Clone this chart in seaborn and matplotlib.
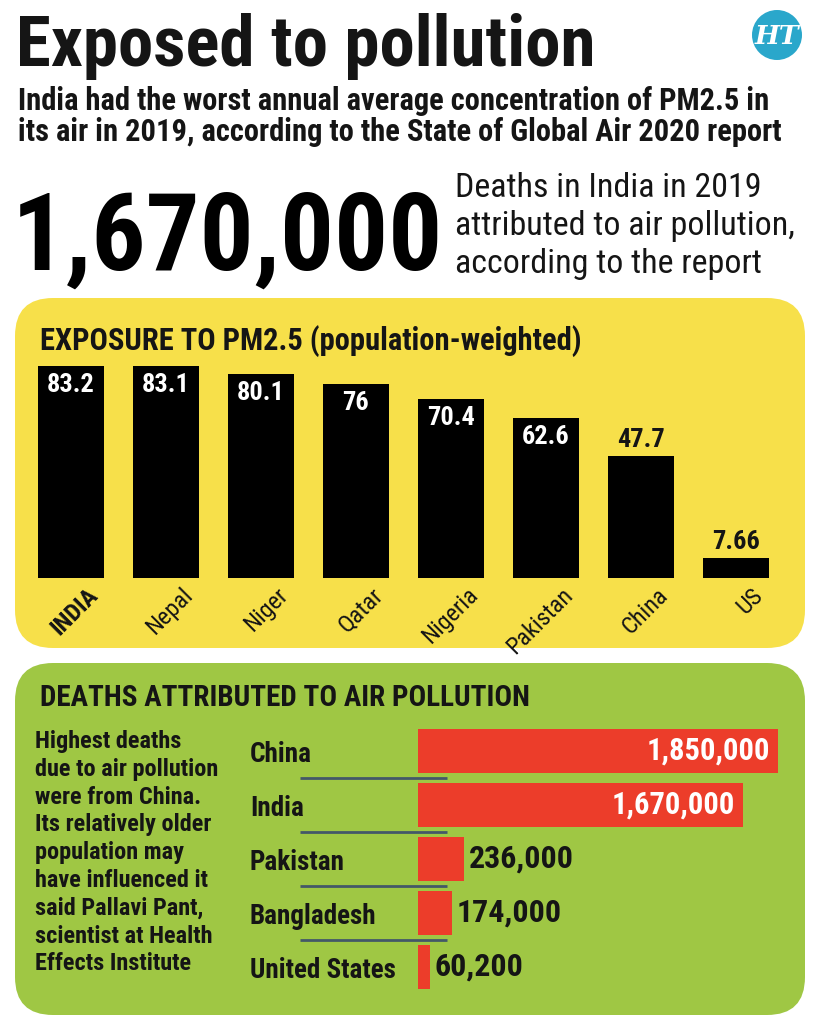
import matplotlib
matplotlib.use("Agg")
import matplotlib.pyplot as plt
import seaborn as sns
import pandas as pd
from matplotlib import font_manager as fm
from matplotlib.patches import FancyBboxPatch, Circle
from matplotlib.transforms import ScaledTranslation

# ---------------- data ----------------
pm_countries = ["INDIA", "Nepal", "Niger", "Qatar", "Nigeria", "Pakistan", "China", "US"]
pm_values = [83.2, 83.1, 80.1, 76, 70.4, 62.6, 47.7, 7.66]
pm_labels = ["83.2", "83.1", "80.1", "76", "70.4", "62.6", "47.7", "7.66"]

death_countries = ["China", "India", "Pakistan", "Bangladesh", "United States"]
death_values = [1850000, 1670000, 236000, 174000, 60200]

title = "Exposed to pollution"
subtitle = ["India had the worst annual average concentration of PM2.5 in",
            "its air in 2019, according to the State of Global Air 2020 report"]
big_number = "1,670,000"
big_caption = ["Deaths in India in 2019", "attributed to air pollution,", "according to the report"]
panel1_title = "EXPOSURE TO PM2.5 (population-weighted)"
panel2_title = "DEATHS ATTRIBUTED TO AIR POLLUTION"
note_lines = ["Highest deaths", "due to air pollution", "were from China.",
              "Its relatively older", "population may", "have influenced it",
              "said Pallavi Pant,", "scientist at Health", "Effects Institute"]

# ---------------- style ----------------
sns.set_theme(style="white")
names = {f.name for f in fm.fontManager.ttflist}
NARROW = "DejaVu Sans"
for cand in ["Roboto Condensed", "Liberation Sans Narrow", "Open Sans Condensed", "Liberation Sans"]:
    if cand in names:
        NARROW = cand
        break
plt.rcParams["font.family"] = [NARROW, "DejaVu Sans"]

INK = "#151515"
YELLOW = "#F7E04A"
GREEN = "#9FC744"
RED = "#EC3D2A"
LINEC = "#435868"
TEAL = "#2AA7CB"

W, H = 814, 1024
fig = plt.figure(figsize=(W / 100, H / 100), dpi=100)
fig.patch.set_facecolor("white")

bg = fig.add_axes([0, 0, 1, 1], zorder=0)
bg.set_xlim(0, W)
bg.set_ylim(H, 0)
bg.axis("off")

def fx(x):
    return x / W

def fy(y):
    return 1 - y / H

# header
bg.text(16, 66, title, fontsize=51, fontweight="bold", color=INK, va="baseline", ha="left")
for i, line in enumerate(subtitle):
    bg.text(18, 110 + 31 * i, line, fontsize=22, fontweight="bold", color=INK, va="baseline", ha="left")

bg.text(12, 270, big_number, fontsize=77, fontweight="bold", color="black", va="baseline", ha="left")
for i, line in enumerate(big_caption):
    bg.text(455, 197 + 38 * i, line, fontsize=24.5, color=INK, va="baseline", ha="left")

# logo
bg.add_patch(Circle((777, 35), 25, facecolor=TEAL, edgecolor="none"))
bg.text(777, 36, "HT", fontsize=19, fontweight="bold", fontstyle="italic", family="DejaVu Serif",
        color="white", ha="center", va="center")

# panels
bg.add_patch(FancyBboxPatch((15, 298), 790, 350, boxstyle="round,pad=0,rounding_size=38",
                            facecolor=YELLOW, edgecolor="none"))
bg.add_patch(FancyBboxPatch((15, 663), 790, 352, boxstyle="round,pad=0,rounding_size=38",
                            facecolor=GREEN, edgecolor="none"))

bg.text(40, 350, panel1_title, fontsize=22, fontweight="bold", color=INK, va="baseline", ha="left")
bg.text(40, 706, panel2_title, fontsize=21, fontweight="bold", color=INK, va="baseline", ha="left")
for i, line in enumerate(note_lines):
    bg.text(35, 748 + 27.8 * i, line, fontsize=17.5, fontweight="bold", color=INK, va="baseline", ha="left")

# ---------------- PM2.5 bar chart ----------------
ax1 = fig.add_axes([fx(23.5), fy(578), (8 * 95) / W, 212 / H], zorder=2)
ax1.patch.set_alpha(0)
df1 = pd.DataFrame({"country": pm_countries, "pm": pm_values})
sns.barplot(data=df1, x="country", y="pm", color="black", saturation=1, width=0.7, linewidth=0, ax=ax1)
ax1.set_xlim(-0.5, 7.5)
ax1.set_ylim(0, pm_values[0])
ax1.set_xlabel("")
ax1.set_ylabel("")
ax1.set_yticks([])
for s in ax1.spines.values():
    s.set_visible(False)
ax1.tick_params(axis="x", length=0, pad=4)
off = ScaledTranslation(15 / 100, 0, fig.dpi_scale_trans)
for i, lab in enumerate(ax1.get_xticklabels()):
    lab.set_rotation(45)
    lab.set_ha("right")
    lab.set_va("top")
    lab.set_rotation_mode("anchor")
    lab.set_fontsize(17.5)
    lab.set_color(INK)
    lab.set_transform(lab.get_transform() + off)
    if i == 0:
        lab.set_fontweight("bold")
for i, (v, t) in enumerate(zip(pm_values, pm_labels)):
    if v > 55:
        ax1.annotate(t, xy=(i, v), xytext=(0, -7), textcoords="offset pixels", ha="center", va="top",
                     fontsize=19, fontweight="bold", color="white", annotation_clip=False)
    else:
        ax1.annotate(t, xy=(i, v), xytext=(0, 4), textcoords="offset pixels", ha="center", va="bottom",
                     fontsize=19, fontweight="bold", color=INK, annotation_clip=False)

# ---------------- deaths bar chart ----------------
ax2 = fig.add_axes([fx(418), fy(994), 360 / W, 270 / H], zorder=2)
ax2.patch.set_alpha(0)
df2 = pd.DataFrame({"country": death_countries, "deaths": death_values})
sns.barplot(data=df2, y="country", x="deaths", color=RED, saturation=1, width=0.8, orient="h",
            linewidth=0, ax=ax2)
ax2.set_xlim(0, death_values[0])
ax2.set_ylim(4.5, -0.5)
ax2.set_xlabel("")
ax2.set_ylabel("")
ax2.set_xticks([])
for s in ax2.spines.values():
    s.set_visible(False)
ax2.tick_params(axis="y", length=0, pad=121)
for lab in ax2.get_yticklabels():
    lab.set_ha("left")
    lab.set_fontsize(19.5)
    lab.set_fontweight("bold")
    lab.set_color(INK)
scale = death_values[0] / 360.0
ax2.hlines([0.5, 1.5, 2.5, 3.5], -118 * scale, 29 * scale, color=LINEC, lw=2, clip_on=False, zorder=0)
for i, v in enumerate(death_values):
    txt = f"{v:,}"
    if v > 1000000:
        ax2.annotate(txt, xy=(v, i), xytext=(-8, 0), textcoords="offset pixels", ha="right", va="center",
                     fontsize=22, fontweight="bold", color="white", annotation_clip=False)
    else:
        ax2.annotate(txt, xy=(v, i), xytext=(5, 0), textcoords="offset pixels", ha="left", va="center",
                     fontsize=23, fontweight="bold", color=INK, annotation_clip=False)

fig.savefig("out.png", dpi=100)
